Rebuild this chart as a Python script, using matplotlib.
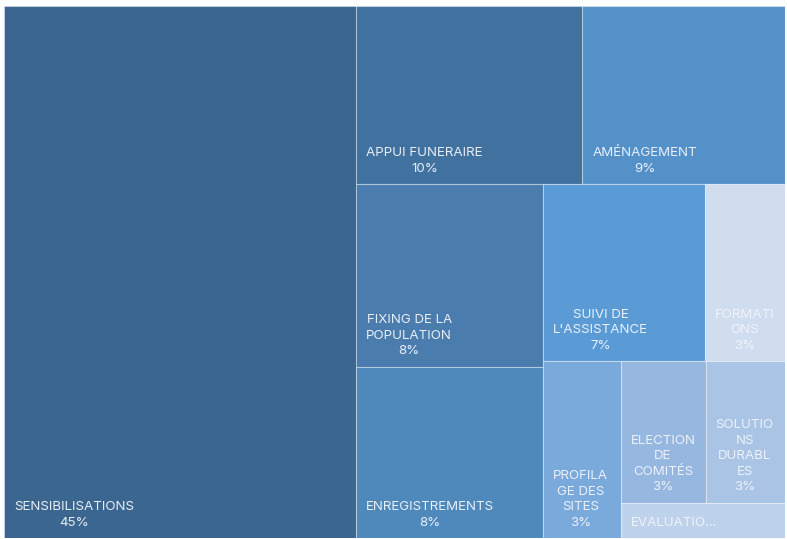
import matplotlib.pyplot as plt
from matplotlib.patches import Rectangle

# treemap data (share of activities, %)
categories = ["SENSIBILISATIONS", "APPUI FUNERAIRE", "AMÉNAGEMENT",
              "FIXING DE LA POPULATION", "ENREGISTREMENTS",
              "SUIVI DE L'ASSISTANCE", "FORMATIONS", "PROFILAGE DES SITES",
              "ELECTION DE COMITÉS", "SOLUTIONS DURABLES", "EVALUATIONS"]
values = [45.1, 9.7, 8.7, 8.2, 7.7, 6.9, 3.4, 3.3, 2.9, 2.7, 1.4]
# labels as they are wrapped / cut in the narrow tiles
labels = ["SENSIBILISATIONS", "APPUI FUNERAIRE", "AMÉNAGEMENT",
          "FIXING DE LA\nPOPULATION", "ENREGISTREMENTS",
          "SUIVI DE\nL'ASSISTANCE", "FORMATI\nONS", "PROFILA\nGE DES\nSITES",
          "ELECTION\nDE\nCOMITÉS", "SOLUTIO\nNS\nDURABL\nES", "EVALUATIO..."]
show_pct = [True] * 10 + [False]
colors = ["#3a668f", "#41729f", "#5591c9", "#4a7cae", "#4f89bc", "#5a9bd6",
          "#d0ddef", "#7aa9db", "#96b7df", "#a9c4e5", "#bfd2eb"]

# how many tiles go in each strip of the layout
strips = [1, 2, 2, 2, 1, 2, 1]

W, H = 781, 532


def layout(vals, strips, x, y, w, h):
    rects = []
    total = sum(vals)
    i = 0
    for n in strips:
        chunk = vals[i:i + n]
        s = sum(chunk)
        if w >= h:
            cw = w * s / total
            yy = y
            for v in chunk:
                ch = h * v / s
                rects.append((x, yy, cw, ch))
                yy += ch
            x += cw
            w -= cw
        else:
            rh = h * s / total
            xx = x
            for v in chunk:
                rw = w * v / s
                rects.append((xx, y, rw, rh))
                xx += rw
            y += rh
            h -= rh
        total -= s
        i += n
    return rects


rects = layout(values, strips, 0, 0, W, H)

fig = plt.figure(figsize=(7.87, 5.39), dpi=100)
ax = fig.add_axes([4 / 787, 1 / 539, W / 787, H / 539])
ax.set_xlim(0, W)
ax.set_ylim(H, 0)
ax.axis("off")

for (x, y, w, h), lab, v, c, sp in zip(rects, labels, values, colors, show_pct):
    ax.add_patch(Rectangle((x, y), w, h, facecolor=c,
                           edgecolor=(1, 1, 1, 0.35), linewidth=0.8))
    txt = lab + (f"\n{round(v)}%" if sp else "")
    ax.text(x + 10, y + h - 12.5, txt, ha="left", va="baseline",
            multialignment="center", color="#f0f4fa", alpha=0.95,
            fontsize=9.6, family="Inter", linespacing=1.38)

fig.savefig("out.png", dpi=100)
